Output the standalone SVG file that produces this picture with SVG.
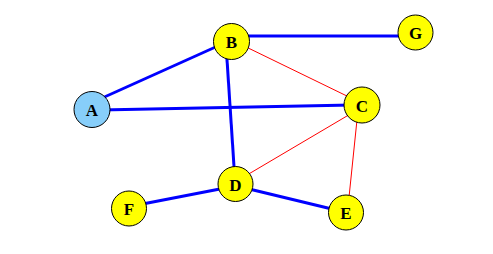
<svg xmlns="http://www.w3.org/2000/svg" width="493" height="254" viewBox="0 0 493 254">
<style>
.n circle{fill:#ffff00;stroke:#000;stroke-width:1}
.n text{font-family:"Liberation Serif",serif;font-weight:bold;font-size:17px;text-anchor:middle;dominant-baseline:central;fill:#000}
.t{stroke:#0000ff;stroke-width:3}
.r{stroke:#ff0000;stroke-width:1}
</style>
<rect width="493" height="254" fill="#fff"/>
<g id="edges">
<line class="t" x1="100" y1="99" x2="220" y2="45"/>
<line class="t" x1="100" y1="110" x2="352" y2="105"/>
<line class="t" x1="240" y1="36" x2="405" y2="36"/>
<line class="t" x1="226.5" y1="52" x2="234.5" y2="174"/>
<line class="t" x1="140" y1="204.5" x2="225" y2="188"/>
<line class="t" x1="245" y1="188" x2="336" y2="210"/>
<line class="r" x1="240" y1="44" x2="350" y2="97.5"/>
<line class="r" x1="352" y1="113" x2="247" y2="175"/>
<line class="r" x1="357.5" y1="115" x2="348.5" y2="202"/>
</g>
<g id="A" class="n"><circle cx="92" cy="109.5" r="18" style="fill:#87cefa"/><text x="92" y="110.5">A</text></g>
<g id="B" class="n"><circle cx="231.5" cy="41.5" r="18"/><text x="231.5" y="42.5">B</text></g>
<g id="G" class="n"><circle cx="415.5" cy="32.5" r="17.5"/><text x="415.5" y="33.5">G</text></g>
<g id="C" class="n"><circle cx="362" cy="105" r="18"/><text x="362" y="106">C</text></g>
<g id="D" class="n"><circle cx="235.5" cy="184" r="17.5"/><text x="235.5" y="185">D</text></g>
<g id="F" class="n"><circle cx="129" cy="208.5" r="17.5"/><text x="129" y="209.5">F</text></g>
<g id="E" class="n"><circle cx="346" cy="212.5" r="17.5"/><text x="346" y="213.5">E</text></g>
</svg>
